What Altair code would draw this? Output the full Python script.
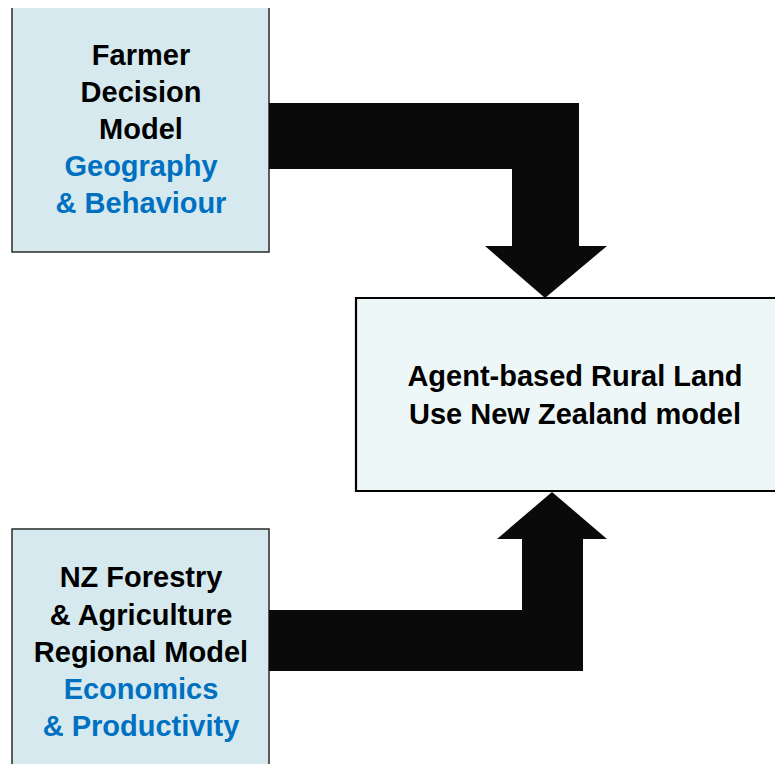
import altair as alt
import pandas as pd

# Boxes (pixel coordinates of the diagram)
box_name = ["farmer", "center", "nzfarm"]
box_x0 = [12, 356, 12]
box_x1 = [269, 800, 269]
box_y0 = [7, 298, 529]
box_y1 = [252, 491, 800]
box_fill = ["#d5e9ee", "#eef7f7", "#d5e9ee"]
box_stroke = ["#2a2a2a", "#000000", "#2a2a2a"]
box_sw = [1.5, 2.2, 1.5]

# Arrow shafts
bar_x0 = [269, 512, 269, 522]
bar_x1 = [579, 579, 583, 583]
bar_y0 = [103, 103, 610, 539]
bar_y1 = [169, 246, 671, 671]

# Arrow heads (triangles)
head_id = ["top", "top", "top", "bottom", "bottom", "bottom"]
head_x = [485, 545, 607, 497, 552, 607]
head_ybase = [246, 246, 246, 539, 539, 539]
head_ytip = [246, 298, 246, 539, 492, 539]

# Text lines
txt = ["Farmer", "Decision", "Model", "Geography", "& Behaviour",
       "Agent-based Rural Land", "Use New Zealand model",
       "NZ Forestry", "& Agriculture", "Regional Model", "Economics", "& Productivity"]
txt_x = [141, 141, 141, 141, 141, 575, 575, 141, 141, 141, 141, 141]
txt_y = [65, 102, 139, 176, 213, 386, 424, 587, 625, 662, 699, 736]
txt_col = ["#000000", "#000000", "#000000", "#0070c0", "#0070c0",
           "#000000", "#000000",
           "#000000", "#000000", "#000000", "#0070c0", "#0070c0"]

boxes = pd.DataFrame(dict(name=box_name, x0=box_x0, x1=box_x1, y0=box_y0, y1=box_y1,
                          fill=box_fill, stroke=box_stroke, sw=box_sw))
bars = pd.DataFrame(dict(x0=bar_x0, x1=bar_x1, y0=bar_y0, y1=bar_y1))
heads = pd.DataFrame(dict(id=head_id, x=head_x, yb=head_ybase, yt=head_ytip))
texts = pd.DataFrame(dict(t=txt, x=txt_x, y=txt_y, c=txt_col))

xs = alt.Scale(domain=[8, 775], nice=False, zero=False)
ys = alt.Scale(domain=[8, 764], nice=False, zero=False, reverse=True)

box_layer = alt.Chart(boxes).mark_rect(clip=True).encode(
    x=alt.X("x0:Q", scale=xs, axis=None), x2="x1:Q",
    y=alt.Y("y0:Q", scale=ys, axis=None), y2="y1:Q",
    fill=alt.Fill("fill:N", scale=None),
    stroke=alt.Stroke("stroke:N", scale=None),
    strokeWidth=alt.StrokeWidth("sw:Q", scale=None),
)

bar_layer = alt.Chart(bars).mark_rect(color="#0a0a0a", clip=True).encode(
    x=alt.X("x0:Q", scale=xs, axis=None), x2="x1:Q",
    y=alt.Y("y0:Q", scale=ys, axis=None), y2="y1:Q",
)

head_layer = alt.Chart(heads).mark_area(color="#0a0a0a", clip=True, opacity=1).encode(
    x=alt.X("x:Q", scale=xs, axis=None),
    y=alt.Y("yb:Q", scale=ys, axis=None), y2="yt:Q",
    detail="id:N",
)

text_layer = alt.Chart(texts).mark_text(
    font="Liberation Sans", fontWeight="bold", fontSize=29,
    align="center", baseline="alphabetic",
).encode(
    x=alt.X("x:Q", scale=xs, axis=None),
    y=alt.Y("y:Q", scale=ys, axis=None),
    text="t:N",
    color=alt.Color("c:N", scale=None),
)

chart = alt.layer(box_layer, bar_layer, head_layer, text_layer).properties(
    width=767, height=756, padding=0,
    autosize=alt.AutoSizeParams(type="none"),
).configure_view(stroke=None)

chart.save("out.html", embed_options={"renderer": "svg", "actions": False})
